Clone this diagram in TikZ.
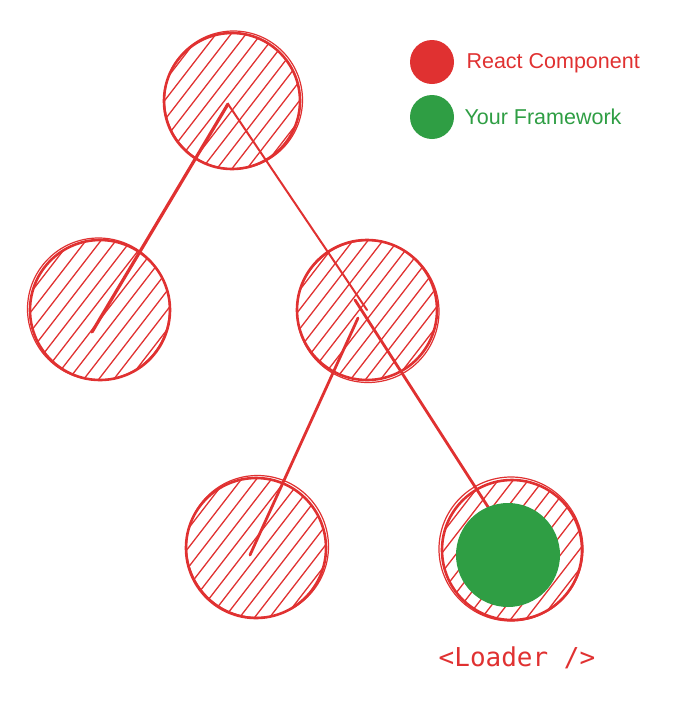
\documentclass[tikz,border=0pt]{standalone}
\usepackage{fontspec}
\setmainfont{Liberation Sans}
\newfontfamily\codefont{DejaVu Sans Mono}
\definecolor{exred}{HTML}{E03131}
\definecolor{exgreen}{HTML}{2F9E44}
\tikzset{
  hatchline/.style={draw=exred, line width=1.3pt, line cap=round},
  comp/.style={circle, draw=exred, line width=2.6pt, minimum size=#1, inner sep=0pt,
    path picture={
      \foreach \i in {-190,-175,...,190}
        \draw[hatchline] ([xshift=\i pt, yshift=-100pt]path picture bounding box.center) -- ++(170pt,220pt);
    }},
  comp/.default=140pt,
  echo/.style={draw=exred, line width=1.2pt},
  conn/.style={draw=exred, line width=2.8pt, line cap=round},
  dot/.style={circle, fill=#1, minimum size=44pt, inner sep=0pt},
  legend/.style={anchor=west, font=\fontsize{21.5}{24}\selectfont},
}
\begin{document}
\begin{tikzpicture}[x=1pt,y=-1pt]
\useasboundingbox (0,0) rectangle (679,702);
% components
\node[comp=136pt] (top) at (232,101) {};
\node[comp] (lm) at (100,310) {};
\node[comp] (rm) at (367,310) {};
\node[comp] (bl) at (256,548) {};
\node[comp] (br) at (512,550) {};
% second sketchy strokes
\draw[echo] ([shift={(1.5pt,1pt)}]top.center) circle (69);
\draw[echo] ([shift={(-1.5pt,1pt)}]lm.center) circle (71);
\draw[echo] ([shift={(1pt,-1.5pt)}]rm.center) circle (71);
\draw[echo] ([shift={(1.5pt,1.5pt)}]bl.center) circle (71);
\draw[echo] ([shift={(-1pt,1pt)}]br.center) circle (72);
% connectors
\draw[conn, line width=3.2pt] ([shift={(-4pt,-3pt)}]top.center) -- ([shift={(-8pt,-22pt)}]lm.center);
\draw[conn, line width=2pt] ([shift={(-4pt,-3pt)}]top.center) -- (rm.center);
\draw[conn] ([shift={(-9pt,-8pt)}]rm.center) -- ([shift={(-6pt,-7pt)}]bl.center);
\draw[conn] ([shift={(-12pt,10pt)}]rm.center) -- ([shift={(-22pt,40pt)}]br.center);
% framework
\node[circle, fill=exgreen, minimum size=104pt, inner sep=0pt] (fw) at (508,555) {};
\node[text=exred, font=\codefont\fontsize{26}{30}\selectfont] (loader) at (517,658) {<Loader />};
% legend
\node[dot=exred] (ldr) at (432,62) {};
\node[dot=exgreen] (ldg) at (432,117) {};
\node[legend, text=exred] (lr) at (463,63) {React Component};
\node[legend, text=exgreen] (lg) at (461,117) {Your Framework};
\end{tikzpicture}
\end{document}
